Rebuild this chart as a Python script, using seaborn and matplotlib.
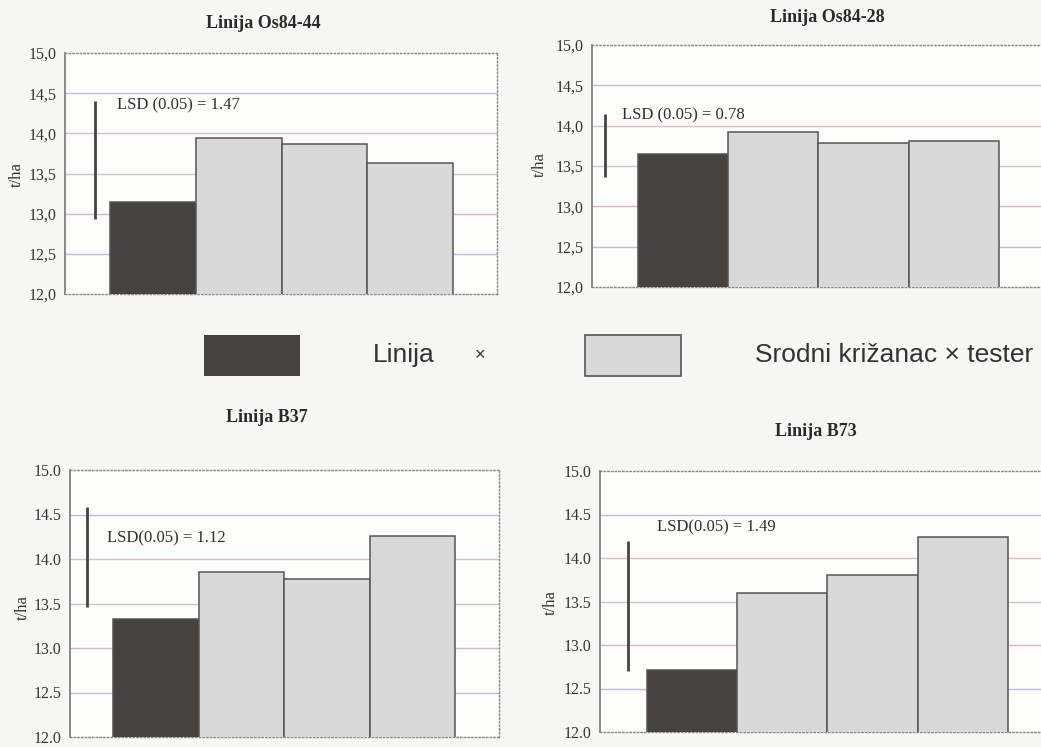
import numpy as np
import pandas as pd
import matplotlib
matplotlib.use("Agg")
import matplotlib.pyplot as plt
import seaborn as sns
from matplotlib.patches import Rectangle

sns.set_theme(style="white")
plt.rcParams['font.family'] = ['Liberation Serif', 'DejaVu Serif']

# podaci (t/ha) procitani sa slike
categories = ["Linija", "Križanac 1", "Križanac 2", "Križanac 3"]
groups = ["Linija", "Srodni križanac × tester", "Srodni križanac × tester", "Srodni križanac × tester"]
titles = ["Linija Os84-44", "Linija Os84-28", "Linija B37", "Linija B73"]
os84_44 = [13.15, 13.94, 13.87, 13.63]
os84_28 = [13.65, 13.92, 13.79, 13.81]
b37 = [13.33, 13.85, 13.77, 14.26]
b73 = [12.71, 13.60, 13.80, 14.24]
lsd_values = [1.47, 0.78, 1.12, 1.49]
lsd_bottom = [12.93, 13.36, 13.46, 12.70]
lsd_labels = ["LSD (0.05) = 1.47", "LSD (0.05) = 0.78", "LSD(0.05) = 1.12", "LSD(0.05) = 1.49"]
yticks = [12.0, 12.5, 13.0, 13.5, 14.0, 14.5, 15.0]

series = [os84_44, os84_28, b37, b73]

W, H = 1041, 747
dark = "#46423f"
light = "#d9d9d9"
palette = {"Linija": dark, "Srodni križanac × tester": light}
grid_colors = ["#c4b8dc", "#e0b4c4", "#b8d4c0", "#e0bcc4", "#c4bcd8"]

# layout in pixels: left, top, right, bottom
boxes = [(65, 53, 497, 294), (592, 45, 1045, 287), (70, 470, 499, 737), (600, 471, 1053, 732)]
xlims = [(-1.025, 4.013), (-1.004, 4.005), (-1.006, 4.011), (-1.017, 4.0)]
lsd_x = [-0.675, -0.857, -0.81, -0.71]
lsd_text_pos = [(-0.419, 14.35), (-0.672, 14.13), (-0.573, 14.23), (-0.385, 14.35)]
decimal = [",", ",", ".", "."]
title_pos = [(263, 24), (827, 17), (267, 418), (816, 432)]
ylabel_pos = [(17, 175), (540, 165), (23, 608), (551, 603)]

fig = plt.figure(figsize=(W / 100, H / 100), dpi=100)
fig.patch.set_facecolor("#f7f7f5")

for i in range(4):
    l, t, r, b = boxes[i]
    ax = fig.add_axes([l / W, 1 - b / H, (r - l) / W, (b - t) / H])
    ax.set_facecolor("#fdfdfc")
    df = pd.DataFrame({"kategorija": categories, "prinos": series[i], "skupina": groups})
    sns.barplot(data=df, x="kategorija", y="prinos", hue="skupina", palette=palette,
                dodge=False, width=1.0, errorbar=None, legend=False,
                edgecolor="#555555", linewidth=1.1, ax=ax, zorder=3)
    ax.set_ylim(12.0, 15.0)
    ax.set_xlim(*xlims[i])
    ax.set_yticks(yticks)
    ax.set_yticklabels([f"{v:.1f}".replace(".", decimal[i]) for v in yticks])
    ax.set_xticks([])
    ax.set_xlabel("")
    ax.set_ylabel("")
    ax.tick_params(axis="y", direction="out", length=4, width=0.8, color="#777777",
                   labelsize=11.5, pad=2, labelcolor="#333333")
    for k, v in enumerate(yticks[1:-1]):
        ax.axhline(v, color=grid_colors[k], lw=1.0, zorder=1)
    for side in ["top", "right", "bottom"]:
        ax.spines[side].set_linestyle(":")
        ax.spines[side].set_color("#888888")
        ax.spines[side].set_linewidth(1.0)
    ax.spines["left"].set_color("#777777")
    ax.spines["left"].set_linewidth(1.2)
    # LSD
    ax.vlines(lsd_x[i], lsd_bottom[i], lsd_bottom[i] + lsd_values[i], color="#444444", lw=2, zorder=4)
    ax.text(lsd_text_pos[i][0], lsd_text_pos[i][1], lsd_labels[i], fontsize=12,
            color="#2f2f2f", va="center", ha="left", zorder=5)
    fig.text(title_pos[i][0] / W, 1 - title_pos[i][1] / H, titles[i], fontsize=13,
             fontweight="bold", ha="center", va="center", color="#2a2a2a")
    fig.text(ylabel_pos[i][0] / W, 1 - ylabel_pos[i][1] / H, "t/ha", fontsize=12,
             rotation=90, ha="center", va="center", color="#333333")

# legenda
fig.patches.append(Rectangle((204 / W, 1 - 376 / H), 96 / W, 41 / H, transform=fig.transFigure,
                             facecolor=dark, edgecolor="none"))
fig.patches.append(Rectangle((585 / W, 1 - 376 / H), 96 / W, 41 / H, transform=fig.transFigure,
                             facecolor=light, edgecolor="#555555", lw=1.2))
sans = ["Liberation Sans", "DejaVu Sans"]
fig.text(373 / W, 1 - 355 / H, "Linija", fontsize=19, family=sans, va="center", ha="left", color="#333333")
fig.text(480 / W, 1 - 356 / H, "×", fontsize=13, family=sans, va="center", ha="center", color="#333333")
fig.text(755 / W, 1 - 355 / H, "Srodni križanac × tester", fontsize=19, family=sans,
         va="center", ha="left", color="#333333")

fig.savefig("out.png", dpi=100, facecolor=fig.get_facecolor())
